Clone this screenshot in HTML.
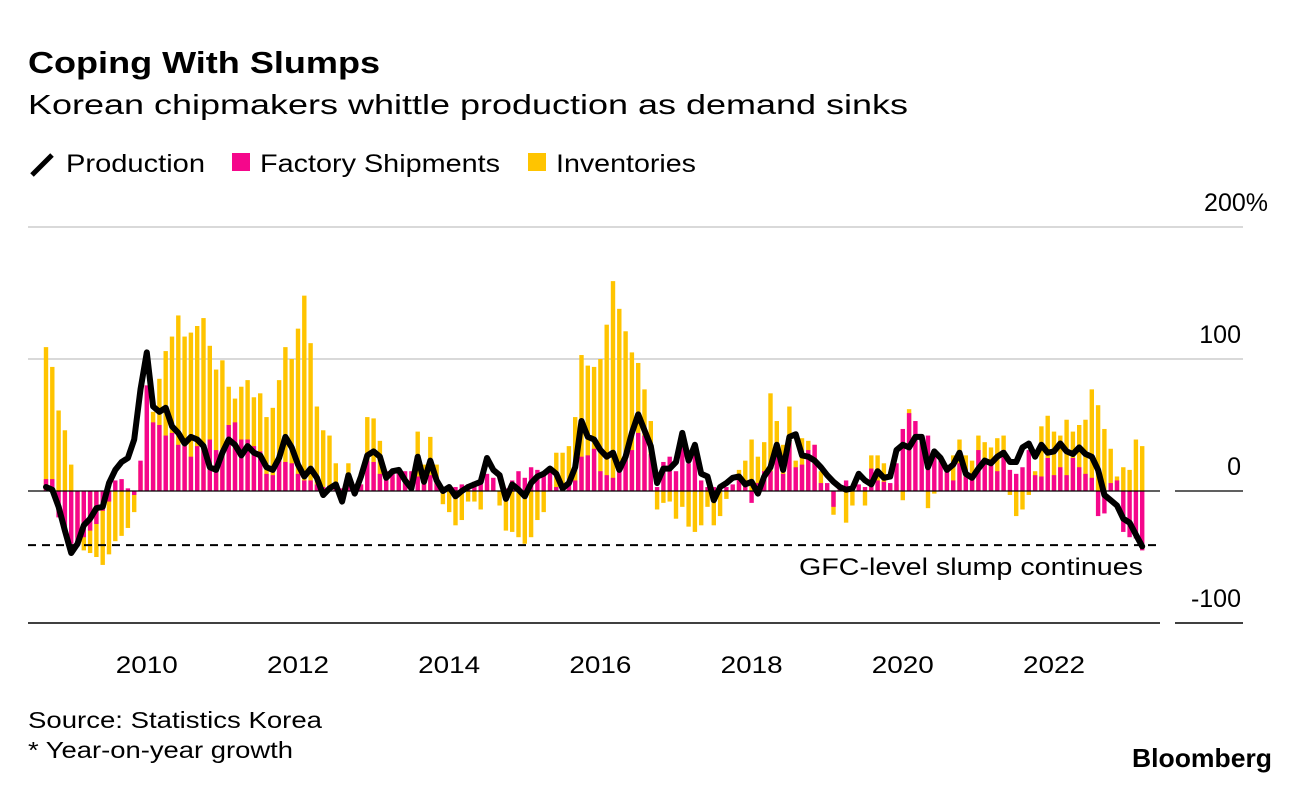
<!DOCTYPE html>
<html><head><meta charset="utf-8">
<style>
body{margin:0;background:#fff;width:1296px;height:790px;overflow:hidden;font-family:"Liberation Sans",sans-serif;}
svg{position:absolute;left:0;top:0}
</style></head>
<body>
<svg id="chart" width="1296" height="790" viewBox="0 0 1296 790">
<text x="28" y="73" font-size="31" font-weight="bold" fill="#000" textLength="352" lengthAdjust="spacingAndGlyphs">Coping With Slumps</text>
<text x="28" y="114" font-size="28" fill="#000" textLength="880" lengthAdjust="spacingAndGlyphs">Korean chipmakers whittle production as demand sinks</text>
<g>
<line x1="32" y1="175" x2="52" y2="155" stroke="#000" stroke-width="5"/>
<text x="66" y="172" font-size="25" textLength="139" lengthAdjust="spacingAndGlyphs">Production</text>
<rect x="232" y="153" width="18" height="18" fill="#f5078b"/>
<text x="260" y="172" font-size="25" textLength="240" lengthAdjust="spacingAndGlyphs">Factory Shipments</text>
<rect x="528" y="153" width="18" height="18" fill="#ffc400"/>
<text x="556" y="172" font-size="25" textLength="140" lengthAdjust="spacingAndGlyphs">Inventories</text>
</g>
<g id="grid"></g>
<g id="bars"></g>
<g id="lines"></g>
<text x="799" y="575" font-size="24" textLength="344" lengthAdjust="spacingAndGlyphs">GFC-level slump continues</text>
<text x="28" y="728" font-size="23" textLength="294" lengthAdjust="spacingAndGlyphs">Source: Statistics Korea</text>
<text x="28" y="758" font-size="23" textLength="265" lengthAdjust="spacingAndGlyphs">* Year-on-year growth</text>
<text x="1132" y="767" font-size="26" font-weight="bold" textLength="140" lengthAdjust="spacingAndGlyphs">Bloomberg</text>
</svg>
<script>
const production=[3,1,-12,-30,-47,-40,-26,-21,-13,-12,
6,16,22,25,39,77,105,64,60,63,
49,44,36,41,39,34,18,16,29,39,
35,27,34,29,27,18,16,25,41,33,
20,11,17,10,-3,2,5,-8,12,-2,
11,27,30,26,10,15,16,8,2,26,
7,23,8,0,3,-4,0,3,5,7,
25,16,12,-6,5,1,-4,6,11,13,
17,13,2,6,18,53,41,39,31,26,
29,16,26,44,58,46,34,6,17,17,
22,44,23,35,13,11,-7,3,6,10,
11,5,7,-2,11,18,35,16,41,43,
27,26,23,18,12,7,3,1,2,13,
8,5,15,10,11,31,35,33,41,41,
18,30,25,16,20,29,13,10,17,23,
21,26,29,22,22,33,36,26,35,29,
30,36,30,28,33,28,26,16,-3,-7,
-11,-21,-24,-33,-42];
const shipments=[9,9,-20,-30,-40,-42,-35,-30,-25,-15,
-8,8,9,2,-3,23,80,52,50,42,
44,35,34,26,34,35,39,31,31,50,
52,39,39,34,30,13,12,23,22,21,
13,8,8,5,3,4,3,2,5,3,
5,23,22,13,15,15,15,15,15,11,
10,12,8,3,3,3,5,5,7,10,
13,10,0,2,8,15,10,18,16,13,
16,3,3,5,8,26,27,32,15,12,
10,16,25,31,44,42,28,3,22,26,
15,41,21,31,8,3,3,3,3,5,
11,8,-9,6,15,15,29,13,37,18,
20,31,35,6,6,-12,3,8,3,5,
3,17,8,7,6,21,47,59,53,41,
42,29,23,15,8,21,11,13,31,23,
20,15,31,16,13,18,31,12,11,25,
12,18,12,25,18,13,10,-19,-17,6,
8,-31,-35,-36,-45];
const inventories=[109,94,61,46,20,-35,-45,-47,-50,-56,
-48,-38,-34,-28,-16,20,80,60,85,106,
117,133,117,120,125,131,110,92,99,79,
70,79,84,71,74,56,63,84,109,100,
123,148,112,64,46,42,21,0,21,5,
5,56,55,38,10,10,10,10,10,45,
20,41,20,-10,-16,-26,-22,-8,-8,-14,
5,5,-11,-30,-31,-35,-40,-35,-22,-16,
5,29,29,34,56,103,95,94,100,126,
159,138,121,105,97,77,53,-14,-9,-8,
-21,-12,-27,-31,-26,-12,-26,-19,-6,3,
16,23,39,26,37,74,53,35,64,23,
40,38,35,15,0,-18,0,-24,-11,0,
-11,27,27,21,5,5,-7,62,1,0,
-13,-2,0,16,27,39,27,23,42,37,
33,40,42,-3,-19,-14,-3,15,49,57,
45,42,54,45,50,54,77,65,47,32,
11,18,16,39,34];
const yearLabels=["2010","2012","2014","2016","2018","2020","2022"];
const yTicks=[200,100,0,-100];
const gfcLevel=-41;
const startYear=2008, startMonth=9;

const NS="http://www.w3.org/2000/svg";
const xOf=i=>46+6.3*i;
const yOf=v=>491-1.32*v;
function mk(tag,attrs,parent){const e=document.createElementNS(NS,tag);for(const k in attrs)e.setAttribute(k,attrs[k]);parent.appendChild(e);return e;}
const grid=document.getElementById('grid'),bars=document.getElementById('bars'),lines=document.getElementById('lines');

yTicks.forEach(t=>{
  const y=yOf(t);
  let l;
  if(t===200||t===100){
    l=mk('line',{x1:28,x2:1243,y1:y,y2:y,stroke:'#d9d9d9','stroke-width':2},grid);
    
    
  }
  const lab=mk('text',{x:(t===200?1268:1241),y:y-16,'font-size':25,'text-anchor':'end'},grid);
  lab.textContent=t===200?'200%':String(t);
  
  
});

inventories.forEach((v,i)=>{
  const y0=yOf(0),y1=yOf(v);
  const r=mk('rect',{x:xOf(i)-2.2,y:Math.min(y0,y1),width:4.4,height:Math.abs(y1-y0),fill:'#ffc400'},bars);
  
  
});
shipments.forEach((v,i)=>{
  const y0=yOf(0),y1=yOf(v);
  const r=mk('rect',{x:xOf(i)-2.2,y:Math.min(y0,y1),width:4.4,height:Math.abs(y1-y0),fill:'#f5078b'},bars);
  
  
});

let z=mk('line',{x1:28,x2:1160,y1:yOf(0),y2:yOf(0),stroke:'#000','stroke-width':1.3},lines);


let z2=mk('line',{x1:1175,x2:1243,y1:yOf(0),y2:yOf(0),stroke:'#000','stroke-width':1.3},lines);


let ax=mk('line',{x1:28,x2:1160,y1:623,y2:623,stroke:'#000','stroke-width':1.5},lines);


let ax2=mk('line',{x1:1175,x2:1243,y1:623,y2:623,stroke:'#000','stroke-width':1.5},lines);



let g=mk('line',{x1:28,x2:1160,y1:yOf(gfcLevel),y2:yOf(gfcLevel),stroke:'#000','stroke-width':2,'stroke-dasharray':'8,6'},lines);



const pts=production.map((v,i)=>xOf(i).toFixed(1)+','+yOf(v).toFixed(1)).join(' ');
let pl=mk('polyline',{points:pts,fill:'none',stroke:'#000','stroke-width':6,'stroke-linejoin':'round','stroke-linecap':'round'},lines);



yearLabels.forEach(lbl=>{
  const i=(parseInt(lbl)-startYear)*12+(1-startMonth);
  const x=xOf(i);
  const t=mk('text',{x:x,y:673,'font-size':24,'text-anchor':'middle',textLength:62,lengthAdjust:'spacingAndGlyphs'},grid);
  t.textContent=lbl;
  
  
});
</script>
</body></html>
